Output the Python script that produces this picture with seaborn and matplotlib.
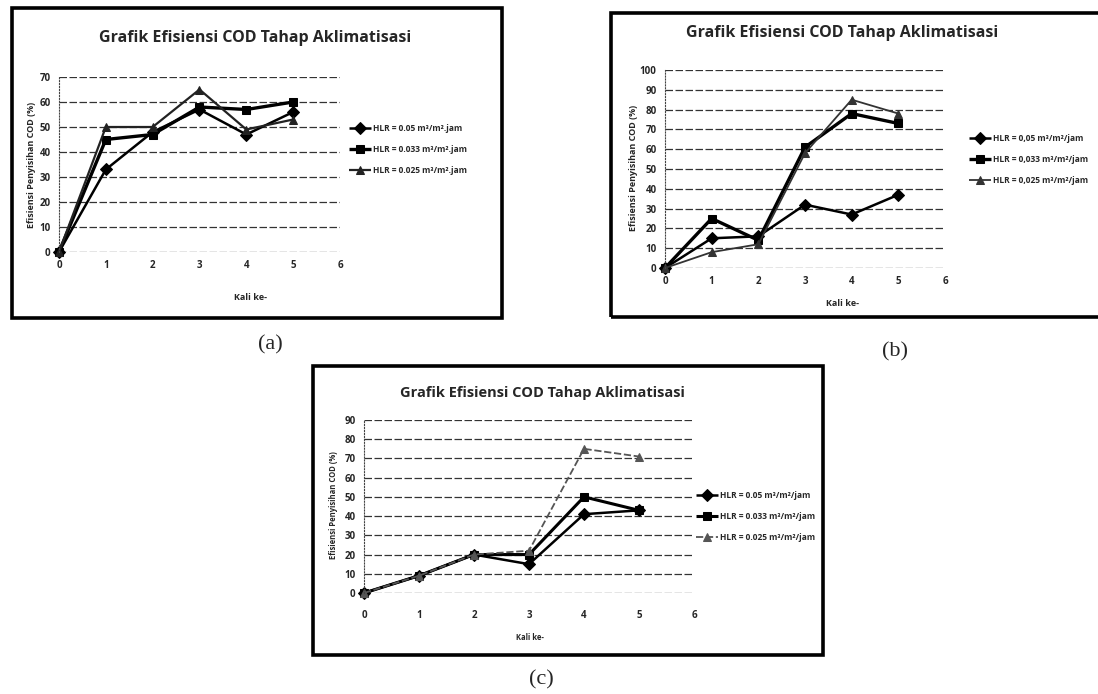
import pandas as pd
import matplotlib.pyplot as plt
import matplotlib.patches as mpatches
import seaborn as sns

sns.set_theme(style="white")
plt.rcParams['font.family'] = ['Open Sans', 'DejaVu Sans']

# Data
kali = [0, 1, 2, 3, 4, 5]

# (a)
a_hlr005 = [0, 33, 48, 57, 47, 56]
a_hlr0033 = [0, 45, 47, 58, 57, 60]
a_hlr0025 = [0, 50, 50, 65, 49, 53]
a_labels = ["HLR = 0.05 m³/m².jam", "HLR = 0.033 m³/m².jam", "HLR = 0.025 m³/m².jam"]

# (b)
b_hlr005 = [0, 15, 16, 32, 27, 37]
b_hlr0033 = [0, 25, 14, 61, 78, 73]
b_hlr0025 = [0, 8, 12, 58, 85, 78]
b_labels = ["HLR = 0,05 m³/m²/jam", "HLR = 0,033 m³/m²/jam", "HLR = 0,025 m³/m²/jam"]

# (c)
c_hlr005 = [0, 9, 20, 15, 41, 43]
c_hlr0033 = [0, 9, 20, 20, 50, 43]
c_hlr0025 = [0, 9, 20, 22, 75, 71]
c_labels = ["HLR = 0.05 m³/m²/jam", "HLR = 0.033 m³/m²/jam", "HLR = 0.025 m³/m²/jam"]

judul = "Grafik Efisiensi COD Tahap Aklimatisasi"
ylab = "Efisiensi Penyisihan COD (%)"
xlab = "Kali ke-"

W, H = 1098, 694
fig = plt.figure(figsize=(W / 100, H / 100), dpi=100)


def fx(px):
    return px / W


def fy(py):
    return 1 - py / H


def panel(px0, px6, py0, pytop, ymax, series, labels, colors, dashes, lws):
    ax = fig.add_axes([fx(px0), fy(py0), fx(px6 - px0), (py0 - pytop) / H])
    df = pd.concat([pd.DataFrame({'Kali': kali, 'Efisiensi': s, 'HLR': lab})
                    for s, lab in zip(series, labels)])
    sns.lineplot(data=df, x='Kali', y='Efisiensi', hue='HLR', style='HLR',
                 palette=colors, markers=['D', 's', '^'], dashes=dashes,
                 markersize=6, ax=ax, legend=True)
    for line, lw, c in zip(ax.lines, lws, colors):
        line.set_linewidth(lw)
        line.set_markeredgecolor(c)
        line.set_clip_on(False)
    ax.set_xlim(0, 6)
    ax.set_ylim(0, ymax)
    ax.set_xticks(range(0, 7))
    ax.set_yticks(range(0, ymax + 1, 10))
    ax.grid(axis='y', color='#333333', linestyle=(0, (6, 2)), linewidth=0.9)
    for sp in ['top', 'right', 'bottom']:
        ax.spines[sp].set_visible(False)
    ax.spines['left'].set_linestyle(':')
    ax.spines['left'].set_linewidth(0.8)
    ax.spines['left'].set_color('#444444')
    ax.tick_params(labelsize=7, pad=6, length=0)
    for t in ax.get_xticklabels() + ax.get_yticklabels():
        t.set_fontweight('bold')
    ax.set_xlabel('')
    ax.set_ylabel('')
    ax.set_facecolor('none')
    return ax


def legenda(ax, x, y, lws, colors):
    h, l = ax.get_legend_handles_labels()
    for hd, lw, c in zip(h, lws, colors):
        hd.set_linewidth(lw)
        hd.set_markeredgecolor(c)
    ax.legend(h, l, loc='upper left', bbox_to_anchor=(fx(x), fy(y)),
              bbox_transform=fig.transFigure, frameon=False,
              prop={'size': 6, 'weight': 'bold'}, handlelength=2.6,
              labelspacing=1.4, borderaxespad=0, handletextpad=0.2)


# Bingkai
for x0, y0, x1, y1 in [(12, 8, 502, 318), (611, 13, 1100, 317), (313, 366, 823, 655)]:
    fig.patches.append(mpatches.Rectangle((fx(x0), fy(y1)), fx(x1 - x0), (y1 - y0) / H,
                                          transform=fig.transFigure, fill=False,
                                          edgecolor='black', linewidth=2.6))

# (a)
col_a, lw_a = ['black', 'black', '#222222'], [1.8, 2.4, 1.6]
ax_a = panel(59, 340, 252, 77, 70, [a_hlr005, a_hlr0033, a_hlr0025], a_labels,
             col_a, [(1, 0), (1, 0), (1, 0)], lw_a)
legenda(ax_a, 346, 121, lw_a, col_a)
fig.text(fx(255), fy(38), judul, ha='center', va='center', fontsize=11.5, fontweight='bold')
fig.text(fx(250), fy(297), xlab, ha='center', va='center', fontsize=6.5, fontweight='bold')
fig.text(fx(32), fy(165), ylab, ha='center', va='center', rotation=90, fontsize=6.5, fontweight='bold')
fig.text(fx(270), fy(345), "(a)", ha='center', va='center', fontsize=16, family='Liberation Serif')

# (b)
col_b, lw_b = ['black', 'black', '#333333'], [1.8, 2.4, 1.3]
ax_b = panel(665, 945, 268, 70, 100, [b_hlr005, b_hlr0033, b_hlr0025], b_labels,
             col_b, [(1, 0), (1, 0), (1, 0)], lw_b)
legenda(ax_b, 966, 131, lw_b, col_b)
fig.text(fx(842), fy(33), judul, ha='center', va='center', fontsize=11.5, fontweight='bold')
fig.text(fx(843), fy(303), xlab, ha='center', va='center', fontsize=6.5, fontweight='bold')
fig.text(fx(633), fy(168), ylab, ha='center', va='center', rotation=90, fontsize=6.5, fontweight='bold')
fig.text(fx(895), fy(352), "(b)", ha='center', va='center', fontsize=16, family='Liberation Serif')

# (c)
col_c, lw_c = ['black', 'black', '#555555'], [1.8, 2.2, 1.3]
ax_c = panel(364, 694, 593, 420, 90, [c_hlr005, c_hlr0033, c_hlr0025], c_labels,
             col_c, [(1, 0), (1, 0), (4, 1.5)], lw_c)
ax_c.tick_params(axis='x', pad=12)
legenda(ax_c, 693, 488, lw_c, col_c)
fig.text(fx(542), fy(393), judul, ha='center', va='center', fontsize=10.5, fontweight='bold')
fig.text(fx(530), fy(638), xlab, ha='center', va='center', fontsize=5.5, fontweight='bold')
fig.text(fx(333), fy(505), ylab, ha='center', va='center', rotation=90, fontsize=5.5, fontweight='bold')
fig.text(fx(541), fy(680), "(c)", ha='center', va='center', fontsize=16, family='Liberation Serif')

fig.savefig("out.png", dpi=100)
